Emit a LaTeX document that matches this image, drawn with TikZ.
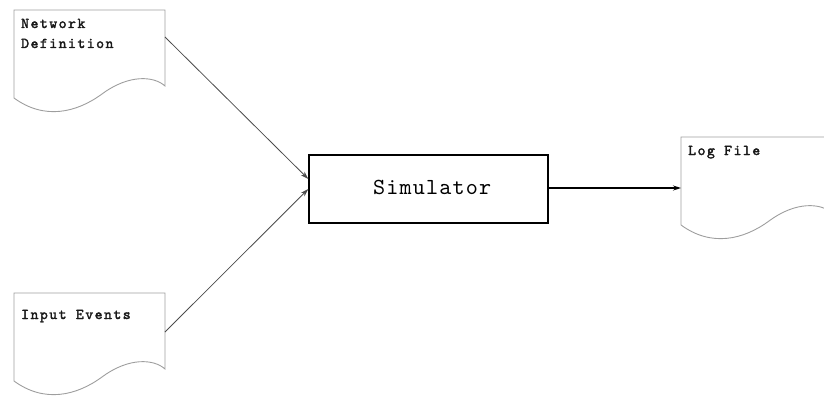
\documentclass[tikz,border=0pt]{standalone}
\usepackage{fontspec}
% slab-serif typewriter faces, slightly tracked out
\newfontfamily\labelface{lmmono10-regular.otf}[LetterSpace=10, FakeBold=2.2]
\newfontfamily\procface{lmmono10-regular.otf}[LetterSpace=5]
\usetikzlibrary{arrows.meta,calc}

\tikzset{
  docline/.style={draw=black!38, line width=0.9pt},
  doclabel/.style={anchor=base west, inner sep=0pt, font=\labelface\fontsize{15}{18}\selectfont, text=black!90},
  procbox/.style={draw=black, line width=1.4pt, minimum width=239pt, minimum height=68pt, inner sep=0pt},
  proclabel/.style={anchor=base west, inner sep=0pt, font=\procface\fontsize{23}{26}\selectfont},
  feed/.style={draw=black!70, line width=0.8pt, -{Stealth[length=8pt,width=5pt]}},
  emit/.style={draw=black, line width=1.1pt, -{Stealth[length=8pt,width=5pt]}}
}

% document outline with a wavy lower edge, drawn in local coordinates (top-left = origin)
\newcommand{\docpath}{%
  (0,88) -- (0,0) -- (151,0) -- (151,76)
  .. controls (140,66) and (115,64) .. (88,84)
  .. controls (62,103) and (30,110) .. (0,88)}

\begin{document}
\begin{tikzpicture}[x=1pt,y=-1pt]
\useasboundingbox (0,0) rectangle (824,396);
\clip (0,0) rectangle (824,396);

% Network Definition
\begin{scope}[shift={(14,10)}]
  \draw[docline] \docpath;
  \node[doclabel] (netA) at (7,18) {Network};
  \node[doclabel] (netB) at (7,38) {Definition};
  \coordinate (netout) at (151,27);
\end{scope}

% Input Events
\begin{scope}[shift={(14,293)}]
  \draw[docline] \docpath;
  \node[doclabel] (inp) at (7,26) {Input Events};
  \coordinate (inpout) at (151,39);
\end{scope}

% Log File (runs past the right edge)
\begin{scope}[shift={(681,137)}]
  \draw[docline] \docpath;
  \node[doclabel] (logl) at (7,18) {Log File};
  \coordinate (login) at (0,51);
\end{scope}

% Simulator
\node[procbox] (sim) at (428.5,189) {};
\node[proclabel] (simtxt) at ($(sim.center)+(-55.5,5)$) {Simulator};
\coordinate (simin1) at ($(sim.west)+(0,-10)$);
\coordinate (simin2) at ($(sim.west)+(0,0)$);

\draw[feed] (netout) -- (simin1);
\draw[feed] (inpout) -- (simin2);
\draw[emit] (sim.east |- login) -- (login);
\end{tikzpicture}
\end{document}
